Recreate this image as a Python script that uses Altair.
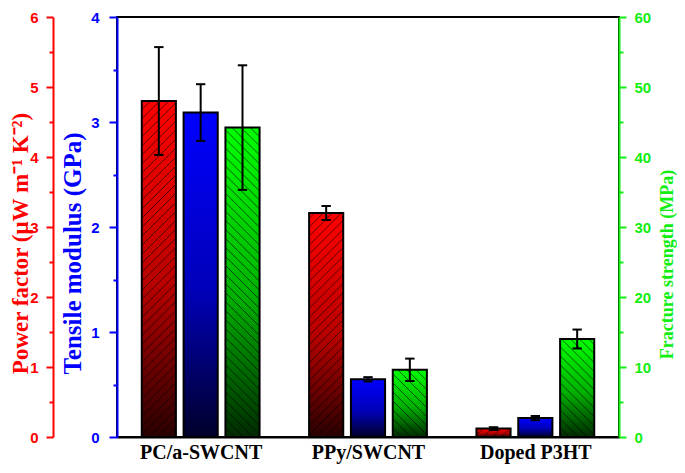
import altair as alt
import pandas as pd

groups = ["PC/a-SWCNT", "PPy/SWCNT", "Doped P3HT"]

pf = [4.80, 3.20, 0.12]
pf_err = [0.77, 0.10, 0.02]
tm = [3.09, 0.55, 0.18]
tm_err = [0.27, 0.02, 0.02]
fs = [44.2, 9.6, 14.0]
fs_err = [8.9, 1.6, 1.35]

RED = "#ff0000"
BLUE = "#0000ff"
GREEN = "#11ee11"

# layout of bars in group-index units (group i occupies [i, i+1])
STRIDE = 0.25      # distance between bar centres inside a group
HALF_W = 0.102     # half bar width
CAP_HALF = 0.028   # half width of error-bar caps
HATCH_RISE = 0.081  # hatch rise across one bar, as fraction of the axis range
HATCH_GAP = 0.0215  # vertical hatch spacing, as fraction of the axis range


def frame(vals, errs, j):
    rows = []
    for i, (g, v, e) in enumerate(zip(groups, vals, errs)):
        c = i + 0.5 + (j - 1) * STRIDE
        rows.append(dict(group=g, c=c, left=c - HALF_W, right=c + HALF_W,
                         cl=c - CAP_HALF, cr=c + CAP_HALF,
                         value=v, lo=v - e, hi=v + e, zero=0.0))
    return pd.DataFrame(rows)


def hatch(df, top, direction):
    rise = HATCH_RISE * top
    gap = HATCH_GAP * top
    rows = []
    for _, r in df.iterrows():
        w = r["right"] - r["left"]
        s = rise / w
        v = r["value"]
        k = 0
        while True:
            if direction > 0:
                c0 = -rise + k * gap
                if c0 > v:
                    break
                t0 = max(0.0, (0 - c0) / s)
                t1 = min(w, (v - c0) / s)
                if t1 > t0:
                    rows.append(dict(x1=r["left"] + t0, x2=r["left"] + t1,
                                     y1=c0 + s * t0, y2=c0 + s * t1))
            else:
                c0 = k * gap
                if c0 - rise > v:
                    break
                t0 = max(0.0, (c0 - v) / s)
                t1 = min(w, c0 / s)
                if t1 > t0:
                    rows.append(dict(x1=r["left"] + t0, x2=r["left"] + t1,
                                     y1=c0 - s * t0, y2=c0 - s * t1))
            k += 1
    return pd.DataFrame(rows)


label_list = "[" + ",".join(f"'{g}'" for g in groups) + "]"
XSC = alt.Scale(domain=[0, 3], nice=False, zero=False)
XAX = alt.Axis(
    title=None, values=[0.5, 1.5, 2.5], labelExpr=f"{label_list}[floor(datum.value)]",
    ticks=False, grid=False, domainColor="black", domainWidth=2,
    labelFont="Liberation Serif", labelFontWeight="bold", labelFontSize=20,
    labelColor="black", labelPadding=5, labelAngle=0,
)


def mkaxis(color, title, values, major, orient, offset, label_pad, tick, extra):
    kw = dict(
        orient=orient, offset=offset, values=values,
        labelExpr=f"datum.value % {major} === 0 ? format(datum.value, 'd') : ''",
        tickSize={"condition": {"test": f"datum.value % {major} === 0", "value": tick}, "value": 4},
        tickColor=color, tickWidth=2, domainColor=color, domainWidth=2,
        labelColor=color, labelFont="Liberation Sans", labelFontWeight="bold",
        labelFontSize=15, labelPadding=label_pad, grid=False,
        title=title, titleColor=color, titleFont="Liberation Serif",
        titleFontWeight="bold", titleAnchor="middle",
    )
    kw.update(extra)
    return alt.Axis(**kw)


def series_layer(df, stops, axis, domain, direction):
    sc = alt.Scale(domain=domain, nice=False, zero=True)
    grad = alt.Gradient(
        gradient="linear",
        stops=[alt.GradientStop(color=c, offset=o) for o, c in stops],
        x1=0, x2=0, y1=0, y2=1,
    )
    base = alt.Chart(df)
    bars = base.mark_bar(fill=grad, stroke="black", strokeWidth=2).encode(
        x=alt.X("left:Q", scale=XSC, axis=XAX), x2="right:Q",
        y=alt.Y("value:Q", scale=sc, axis=axis), y2="zero:Q",
    )
    layers = [bars]
    if direction != 0:
        hd = hatch(df, domain[1], direction)
        layers.append(
            alt.Chart(hd).mark_rule(color="black", strokeWidth=1, opacity=0.6).encode(
                x=alt.X("x1:Q", scale=XSC, axis=XAX), x2="x2:Q",
                y=alt.Y("y1:Q", scale=sc, axis=axis), y2="y2:Q",
            )
        )
    layers.append(
        base.mark_rule(color="black", strokeWidth=2).encode(
            x=alt.X("c:Q", scale=XSC, axis=XAX),
            y=alt.Y("lo:Q", scale=sc, axis=axis), y2="hi:Q",
        )
    )
    for f in ("hi", "lo"):
        layers.append(
            base.mark_rule(color="black", strokeWidth=2).encode(
                x=alt.X("cl:Q", scale=XSC, axis=XAX), x2="cr:Q",
                y=alt.Y(f"{f}:Q", scale=sc, axis=axis),
            )
        )
    return alt.layer(*layers)


red_axis = mkaxis(RED, "Power factor (μW m⁻¹ K⁻²)", [i * 0.5 for i in range(13)], 1,
                  "left", 64, 8, 7,
                  {"titleFontSize": 23, "titleX": -21, "titleY": 226,
                   "titleAngle": 270, "titleBaseline": "bottom"})
blue_axis = mkaxis(BLUE, "Tensile modulus (GPa)", [i * 0.5 for i in range(9)], 1,
                   "left", 0, 10, 8,
                   {"titleFontSize": 25, "titleX": -32, "titleY": 236,
                    "titleAngle": 270, "titleBaseline": "bottom"})
green_axis = mkaxis(GREEN, "Fracture strength (MPa)", [i * 5 for i in range(13)], 10,
                    "right", 0, 8, 7,
                    {"titleFontSize": 18, "titleX": 39, "titleY": 247,
                     "titleAngle": 270, "titleBaseline": "top"})

red = series_layer(frame(pf, pf_err, 0),
                   [(0, "#ff0000"), (0.55, "#b80000"), (1, "#2a0000")],
                   red_axis, [0, 6], 1)
blue = series_layer(frame(tm, tm_err, 1),
                    [(0, "#0000ff"), (0.55, "#0000b8"), (1, "#00002a")],
                    blue_axis, [0, 4], 0)
green = series_layer(frame(fs, fs_err, 2),
                     [(0, "#00ff00"), (0.55, "#00b000"), (1, "#002a00")],
                     green_axis, [0, 60], -1)

chart = (
    alt.layer(red, blue, green)
    .resolve_scale(y="independent")
    .properties(
        width=502, height=420,
        autosize=alt.AutoSizeParams(type="none"),
        padding={"left": 109, "top": 9, "right": 58, "bottom": 28},
    )
    .configure_view(stroke="black", strokeWidth=2)
)

chart.save("out.html", embed_options={"renderer": "svg", "actions": False})
